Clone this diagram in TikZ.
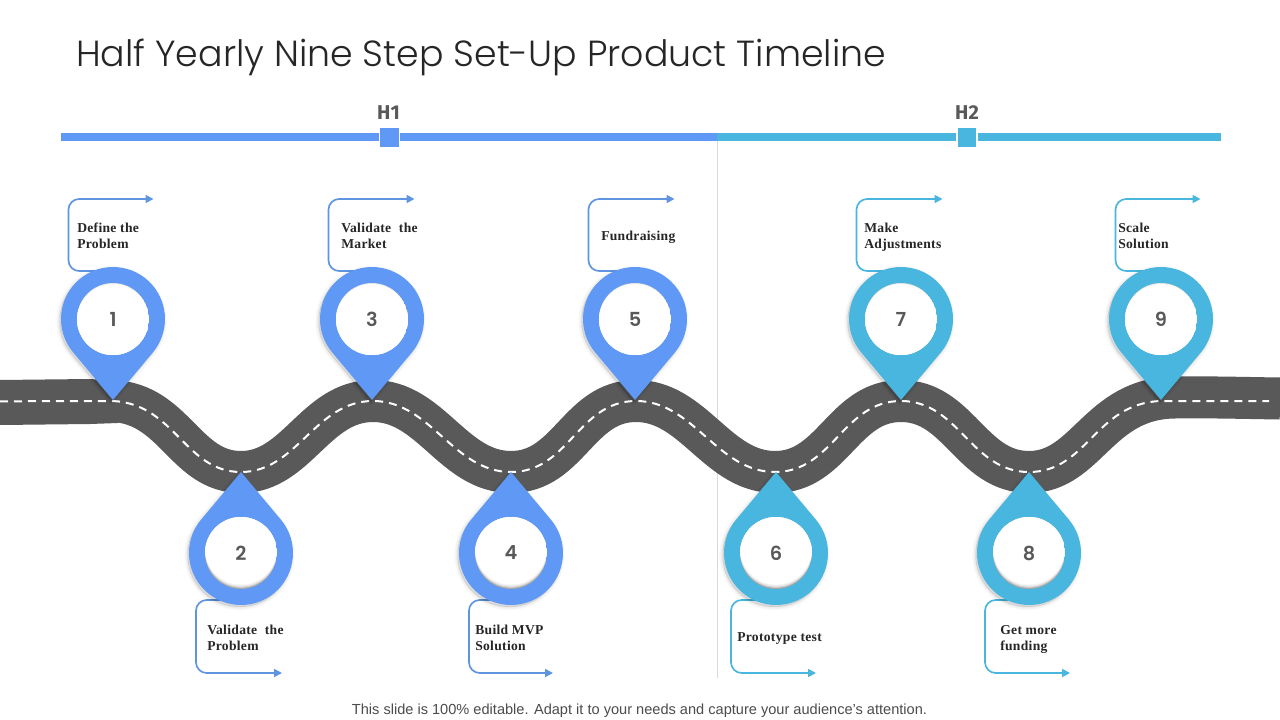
\documentclass[tikz,border=0pt]{standalone}
\usepackage{fontspec}
\setmainfont{Liberation Sans}
\newfontfamily\titlefont{Poppins Light}
\newfontfamily\labelfont[LetterSpace=2.2]{Liberation Serif}
\newfontfamily\numfont{Poppins SemiBold}
\newfontfamily\hfont{Fira Sans}
\usetikzlibrary{arrows.meta}
\definecolor{pblue}{HTML}{5F99F5}
\definecolor{pcyan}{HTML}{48B6DE}
\definecolor{lblue}{HTML}{5E94E0}
\definecolor{roadgray}{HTML}{595959}
\definecolor{numgray}{HTML}{595959}
\tikzset{
  x=0.75pt,y=-0.75pt,
  callout/.style={line width=1.25pt,rounded corners=8pt,-{Triangle[length=6pt,width=6pt]}},
  lbl/.style={anchor=west,align=left,inner sep=0pt,font=\labelfont\bfseries\fontsize{10.2}{12}\selectfont,text=black!85},
  numc/.style={circle,minimum size=54pt,inner sep=0pt,font=\numfont\fontsize{14.5}{15}\selectfont,text=numgray},
  hlab/.style={inner sep=0pt,font=\hfont\bfseries\fontsize{15}{15}\selectfont,text=numgray},
  sqm/.style={draw=white,line width=0.8pt,minimum size=15pt,inner sep=0pt},
}
% shape of a pin: centre x,y; tip angle; tip distance
\newcommand{\pinpath}[4]{(#1,#2)++(#3:#4) -- ([shift={(#3+49.46:52)}]#1,#2) arc[start angle=#3+49.46,end angle=#3+310.54,radius=52] -- cycle}
% pin: name, x, y, tip angle, colour, number, shadow shift, base shade
\newcommand{\pin}[8]{%
  \foreach \w in {5,4,3,2,1,0}{\begin{scope}[shift={(-1.5,2)}]
    \filldraw[black,opacity=.014,line width=\w pt,line join=round] \pinpath{#2}{#3}{#4}{81};
  \end{scope}}
  \fill[#5] \pinpath{#2}{#3}{#4}{81};
  \begin{scope}
    \clip (#2,#3) circle[radius=36];
    \fill[black!#8] (#2,#3) circle[radius=36];
    \fill[white,opacity=.45] (#2,#3-#7*0.25) circle[radius=36];
    \fill[white,opacity=.5] (#2,#3-#7*0.5) circle[radius=36];
    \fill[white,opacity=.6] (#2,#3-#7*0.75) circle[radius=36];
    \fill[white] (#2,#3-#7) circle[radius=36];
  \end{scope}
  \node[numc] (#1) at (#2,#3) {#6};
}
\begin{document}
\begin{tikzpicture}
\useasboundingbox (0,0) rectangle (1280,720);
\fill[white] (0,0) rectangle (1280,720);

\node[anchor=west,inner sep=0pt,font=\titlefont\fontsize{27.23}{30}\selectfont,text=black!85] (title) at (76,57.5) {Half Yearly Nine Step Set-Up Product Timeline};

% divider and top bars
\coordinate (dtop) at (717,133);
\coordinate (dbot) at (717,678);
\draw[black!15,line width=0.75pt] (dtop) -- (dbot);
\fill[pblue] (61,133) rectangle (717,141);
\fill[pcyan] (717,133) rectangle (1221,141);
\node[sqm,fill=pblue] (s1) at (389.5,137.5) {};
\node[sqm,fill=pcyan] (s2) at (967,137.5) {};
\node[hlab] (h1) at (388.5,113) {H1};
\node[hlab] (h2) at (967,113) {H2};

% road
\def\wavepath{.. controls (175,404) and (185,472) .. (241,472)
  .. controls (297,472) and (315,401) .. (373,401)
  .. controls (431,401) and (453,472) .. (511,472)
  .. controls (569,472) and (578,401) .. (636,401)
  .. controls (694,401) and (717,472) .. (775,472)
  .. controls (833,472) and (843,401) .. (901,401)
  .. controls (959,401) and (971,472) .. (1029,472)}
\fill[roadgray] (0,380) -- (90,379) -- (118,381) -- (118,423) -- (90,424) -- (0,425) -- cycle;
\draw[roadgray,line width=31.5pt] (0,402) .. controls (40,401) and (75,401) .. (113,401) \wavepath
  .. controls (1087,472) and (1098,398) .. (1175,397.5)
  .. controls (1210,397) and (1245,398) .. (1280,398.5);
\draw[white,line width=1.5pt,dash pattern=on 6pt off 4.5pt] (0,401.5) .. controls (40,401) and (75,401) .. (113,401) \wavepath
  .. controls (1087,472) and (1095,404) .. (1160,401) -- (1269,401);

% callouts
\foreach \n/\xl/\xs/\xe in {1/68.5/100/153.5,3/328.5/360/414.5,5/588.5/620/674.5}{
  \coordinate (ca\n) at (\xs,271);
  \coordinate (cb\n) at (\xe,199);
  \draw[callout,lblue] (ca\n) -- (\xl,271) -- (\xl,199) -- (cb\n);
}
\foreach \n/\xl/\xs/\xe in {7/856.5/888/942.5,9/1115.5/1147/1200.5}{
  \coordinate (ca\n) at (\xs,271);
  \coordinate (cb\n) at (\xe,199);
  \draw[callout,pcyan] (ca\n) -- (\xl,271) -- (\xl,199) -- (cb\n);
}
\foreach \n/\xl/\xs/\xe in {2/196/228/282,4/469/500/553}{
  \coordinate (ca\n) at (\xs,600);
  \coordinate (cb\n) at (\xe,673);
  \draw[callout,lblue] (ca\n) -- (\xl,600) -- (\xl,673) -- (cb\n);
}
\foreach \n/\xl/\xs/\xe in {6/731/763/816,8/985/1017/1070}{
  \coordinate (ca\n) at (\xs,600);
  \coordinate (cb\n) at (\xe,673);
  \draw[callout,pcyan] (ca\n) -- (\xl,600) -- (\xl,673) -- (cb\n);
}

% pins
\pin{p1}{113}{319}{90}{pblue}{1}{-1.5}{15}
\pin{p3}{372}{319}{90}{pblue}{3}{-1.5}{15}
\pin{p5}{635}{319}{90}{pblue}{5}{-1.5}{15}
\pin{p7}{901}{319}{90}{pcyan}{7}{-1.5}{15}
\pin{p9}{1161}{319}{90}{pcyan}{9}{-1.5}{15}
\pin{p2}{241}{553}{-90}{pblue}{2}{4.5}{35}
\pin{p4}{511}{553}{-90}{pblue}{4}{4.5}{35}
\pin{p6}{776}{553}{-90}{pcyan}{6}{4.5}{35}
\pin{p8}{1029}{553}{-90}{pcyan}{8}{4.5}{35}

% labels
\node[lbl] (l1) at (77,236) {Define the\\Problem};
\node[lbl] (l3) at (341,236) {Validate\hspace{3pt} the\\Market};
\node[lbl] (l5) at (601,237) {Fundraising};
\node[lbl] (l7) at (864,237) {Make\\Adjustments};
\node[lbl] (l9) at (1118,236) {Scale\\Solution};
\node[lbl] (l2) at (207,638) {Validate\hspace{3pt} the\\Problem};
\node[lbl] (l4) at (475,638) {Build MVP\\Solution};
\node[lbl] (l6) at (737,639) {Prototype test};
\node[lbl] (l8) at (1000,639) {Get more\\funding};

\node[inner sep=0pt,font=\fontsize{10.94}{12}\selectfont,text=black!70] (foot) at (639.5,711) {This slide is 100\% editable. Adapt it to your needs and capture your audience's attention.};
\end{tikzpicture}
\end{document}
